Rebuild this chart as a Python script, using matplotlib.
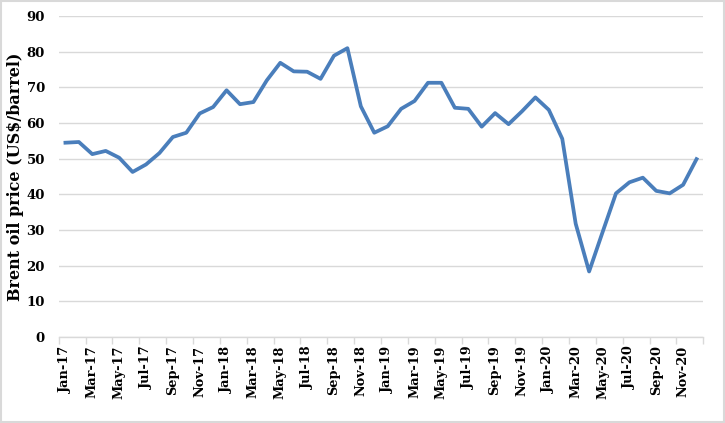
import matplotlib
matplotlib.use("Agg")
import matplotlib.pyplot as plt
from matplotlib.patches import Rectangle

months = ["Jan-17", "Feb-17", "Mar-17", "Apr-17", "May-17", "Jun-17", "Jul-17", "Aug-17",
          "Sep-17", "Oct-17", "Nov-17", "Dec-17",
          "Jan-18", "Feb-18", "Mar-18", "Apr-18", "May-18", "Jun-18", "Jul-18", "Aug-18",
          "Sep-18", "Oct-18", "Nov-18", "Dec-18",
          "Jan-19", "Feb-19", "Mar-19", "Apr-19", "May-19", "Jun-19", "Jul-19", "Aug-19",
          "Sep-19", "Oct-19", "Nov-19", "Dec-19",
          "Jan-20", "Feb-20", "Mar-20", "Apr-20", "May-20", "Jun-20", "Jul-20", "Aug-20",
          "Sep-20", "Oct-20", "Nov-20", "Dec-20"]

brent = [54.5, 54.7, 51.3, 52.2, 50.3, 46.3, 48.4, 51.6, 56.1, 57.3, 62.7, 64.5,
         69.2, 65.3, 65.9, 72.0, 76.9, 74.5, 74.4, 72.4, 78.9, 81.0, 64.7, 57.3,
         59.1, 64.0, 66.2, 71.3, 71.3, 64.3, 64.0, 59.0, 62.8, 59.7, 63.3, 67.2,
         63.7, 55.6, 31.8, 18.4, 29.4, 40.3, 43.4, 44.7, 41.0, 40.3, 42.7, 49.9]

y_ticks = [0, 10, 20, 30, 40, 50, 60, 70, 80, 90]
y_label = "Brent oil price (US$/barrel)"

font = "DejaVu Serif"

fig = plt.figure(figsize=(7.25, 4.23), dpi=100)
fig.patches.append(Rectangle((0.001, 0.002), 0.997, 0.995, transform=fig.transFigure,
                             fill=False, edgecolor="#d9d9d9", linewidth=1.5))
ax = fig.add_axes([0.081, 0.203, 0.889, 0.759])

x = list(range(len(months)))
ax.plot(x, brent, color="#4a7ebb", linewidth=2.7, solid_joinstyle="round")

ax.set_xlim(-0.5, len(months) - 0.5)
ax.set_ylim(0, 90)
ax.set_yticks(y_ticks)
ax.set_yticklabels([str(v) for v in y_ticks], fontfamily=font, fontweight="bold", fontsize=9.5)
ax.yaxis.grid(True, color="#d9d9d9", linewidth=1.0)
ax.set_axisbelow(True)

ax.set_xticks(x[::2])
ax.set_xticklabels(months[::2], rotation=90, fontfamily=font, fontweight="bold", fontsize=9.3)
ax.set_xticks([i - 0.5 for i in range(0, len(months) + 1, 2)], minor=True)
ax.tick_params(axis="x", which="major", length=0, pad=6)
ax.tick_params(axis="x", which="minor", length=5, color="#d9d9d9", width=1.0)
ax.tick_params(axis="y", length=0, pad=10)

for s in ["top", "right", "left"]:
    ax.spines[s].set_visible(False)
ax.spines["bottom"].set_color("#d9d9d9")
ax.spines["bottom"].set_linewidth(1.0)

ax.set_ylabel(y_label, fontfamily=font, fontweight="bold", fontsize=11.5, labelpad=2)

fig.savefig("out.png", dpi=100)
